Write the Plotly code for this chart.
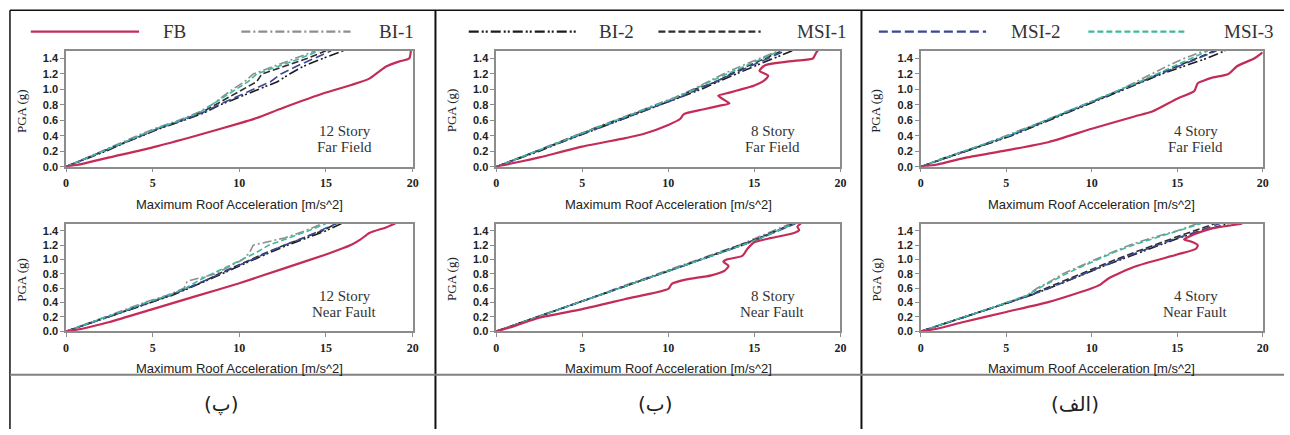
import plotly.graph_objects as go

W, H = 1290, 435

# ---------------- data ----------------
series_names = ["FB", "BI-1", "BI-2", "MSI-1", "MSI-2", "MSI-3"]
panel_titles = [("12 Story", "Far Field"), ("8 Story", "Far Field"), ("4 Story", "Far Field"),
                ("12 Story", "Near Fault"), ("8 Story", "Near Fault"), ("4 Story", "Near Fault")]
column_labels = ["(پ)", "(ب)", "(الف)"]
x_title = "Maximum Roof Acceleration [m/s^2]"
y_title = "PGA (g)"
x_ticks = [0, 5, 10, 15, 20]
y_ticks = [0.0, 0.2, 0.4, 0.6, 0.8, 1.0, 1.2, 1.4]

# PGA levels (g) shared by the base-isolated / MSI curves
pga = [0.0, 0.1, 0.2, 0.3, 0.4, 0.5, 0.6, 0.7, 0.8, 0.9, 1.0, 1.1, 1.2, 1.3, 1.4, 1.5]

# 12 Story Far Field (roof acceleration at each PGA level)
ff12_bi1 = [0, 1.0, 2.1, 3.1, 4.1, 5.2, 6.5, 7.6, 8.4, 9.0, 9.6, 10.3, 10.8, 12.0, 13.2, 14.4]
ff12_bi2 = [0, 1.2, 2.3, 3.3, 4.4, 5.5, 6.8, 8.0, 8.9, 10.0, 11.2, 12.2, 12.9, 13.7, 14.8, 16.0]
ff12_msi1 = [0, 1.1, 2.2, 3.2, 4.3, 5.4, 6.7, 7.8, 8.6, 9.4, 10.2, 11.0, 11.3, 12.6, 13.9, 15.0]
ff12_msi2 = [0, 1.1, 2.2, 3.3, 4.3, 5.4, 6.7, 7.9, 8.8, 9.8, 10.8, 11.8, 12.4, 13.3, 14.3, 15.3]
ff12_msi3 = [0, 1.1, 2.2, 3.2, 4.2, 5.3, 6.6, 7.7, 8.4, 9.1, 9.8, 10.5, 11.0, 12.3, 13.5, 14.6]
ff12_fb_x = [0, 1, 2.5, 5, 7.5, 10, 11, 12.5, 15, 16.5, 17.5, 18, 18.5, 19.2, 19.8, 19.9]
ff12_fb_y = [0, 0.04, 0.12, 0.25, 0.40, 0.56, 0.63, 0.76, 0.96, 1.06, 1.14, 1.22, 1.30, 1.36, 1.40, 1.50]

# 8 Story Far Field
ff8_bi1 = [0, 1.2, 2.3, 3.4, 4.5, 5.7, 6.9, 8.1, 9.3, 10.4, 11.4, 12.3, 13.2, 14.2, 15.3, 16.4]
ff8_bi2 = [0, 1.3, 2.5, 3.6, 4.8, 6.0, 7.2, 8.4, 9.6, 10.8, 11.9, 12.9, 13.9, 15.0, 16.1, 17.2]
ff8_msi1 = [0, 1.2, 2.4, 3.5, 4.6, 5.8, 7.0, 8.2, 9.5, 10.6, 11.5, 12.8, 13.6, 14.6, 15.6, 16.6]
ff8_msi2 = [0, 1.2, 2.4, 3.5, 4.7, 5.9, 7.1, 8.3, 9.5, 10.7, 11.7, 12.7, 13.7, 14.7, 15.7, 16.8]
ff8_msi3 = [0, 1.2, 2.4, 3.5, 4.6, 5.8, 7.0, 8.2, 9.4, 10.5, 11.5, 12.4, 13.4, 14.4, 15.4, 16.5]
ff8_fb_x = [0, 1.5, 2.5, 5, 7.5, 8.5, 10, 10.7, 10.9, 12, 13, 13.55, 13.2, 12.9, 13.4, 15, 15.6, 15.8, 15.3, 15.6, 17.3, 18.4, 18.6, 18.7]
ff8_fb_y = [0, 0.07, 0.12, 0.26, 0.37, 0.42, 0.54, 0.62, 0.68, 0.74, 0.79, 0.82, 0.87, 0.92, 0.95, 1.05, 1.12, 1.18, 1.24, 1.31, 1.37, 1.40, 1.48, 1.50]

# 4 Story Far Field
ff4_bi1 = [0, 1.2, 2.5, 3.8, 5.0, 6.2, 7.3, 8.4, 9.5, 10.6, 11.7, 12.6, 13.5, 14.4, 15.4, 16.6]
ff4_bi2 = [0, 1.3, 2.6, 4.0, 5.3, 6.4, 7.5, 8.6, 9.8, 10.9, 12.0, 13.0, 14.1, 15.4, 16.7, 17.8]
ff4_msi1 = [0, 1.2, 2.6, 3.9, 5.2, 6.3, 7.4, 8.5, 9.7, 10.8, 11.9, 12.9, 13.9, 15.0, 16.1, 17.2]
ff4_msi2 = [0, 1.3, 2.6, 3.9, 5.2, 6.3, 7.4, 8.6, 9.7, 10.8, 11.9, 12.9, 14.0, 15.1, 16.2, 17.3]
ff4_msi3 = [0, 1.2, 2.5, 3.8, 5.1, 6.2, 7.3, 8.4, 9.6, 10.7, 11.8, 12.8, 13.8, 14.8, 15.8, 16.8]
ff4_fb_x = [0, 1, 2.5, 5, 7.5, 10, 12.5, 13.5, 15, 16, 16.2, 16.5, 17, 18, 18.5, 19.5, 20]
ff4_fb_y = [0, 0.03, 0.11, 0.21, 0.32, 0.49, 0.65, 0.71, 0.88, 0.98, 1.08, 1.11, 1.15, 1.20, 1.30, 1.40, 1.48]

# 12 Story Near Fault
nf12_bi1 = [0, 1.1, 2.3, 3.4, 4.5, 5.8, 6.8, 7.0, 8.6, 9.4, 10.2, 10.6, 10.8, 12.6, 13.8, 14.8]
nf12_bi2 = [0, 1.2, 2.4, 3.6, 4.8, 6.1, 7.1, 8.1, 9.0, 9.9, 10.8, 11.8, 12.8, 13.9, 15.0, 15.9]
nf12_msi1 = [0, 1.2, 2.4, 3.5, 4.7, 6.0, 7.0, 8.0, 8.8, 9.7, 10.6, 11.6, 12.6, 13.7, 14.8, 15.6]
nf12_msi2 = [0, 1.2, 2.4, 3.6, 4.8, 6.0, 7.0, 8.0, 8.9, 9.8, 10.7, 11.6, 12.6, 13.7, 14.7, 15.6]
nf12_msi3 = [0, 1.1, 2.3, 3.5, 4.6, 5.9, 6.9, 7.6, 8.4, 9.3, 10.2, 11.0, 11.7, 12.9, 14.0, 15.0]
nf12_fb_x = [0, 1, 2.5, 5, 7.5, 10, 12.5, 15, 16, 16.5, 17, 17.5, 18.5, 19]
nf12_fb_y = [0, 0.04, 0.13, 0.31, 0.49, 0.67, 0.87, 1.07, 1.16, 1.21, 1.28, 1.37, 1.45, 1.50]

# 8 Story Near Fault
nf8_bi1 = [0, 1.2, 2.3, 3.5, 4.7, 5.9, 7.0, 8.2, 9.4, 10.6, 11.7, 12.9, 14.1, 15.1, 16.1, 17.1]
nf8_bi2 = [0, 1.2, 2.4, 3.6, 4.8, 6.0, 7.2, 8.4, 9.6, 10.8, 11.9, 13.1, 14.3, 15.3, 16.3, 17.3]
nf8_msi1 = [0, 1.2, 2.4, 3.6, 4.8, 6.0, 7.1, 8.3, 9.5, 10.7, 11.9, 13.0, 14.2, 15.3, 16.3, 17.3]
nf8_msi2 = [0, 1.2, 2.4, 3.6, 4.8, 6.0, 7.2, 8.4, 9.6, 10.8, 12.0, 13.1, 14.3, 15.4, 16.4, 17.4]
nf8_msi3 = [0, 1.2, 2.4, 3.6, 4.8, 6.0, 7.2, 8.4, 9.5, 10.7, 11.9, 13.1, 14.3, 15.4, 16.4, 17.3]
nf8_fb_x = [0, 1, 2.5, 5, 7.5, 10, 10.2, 11, 12.5, 13.3, 13.5, 13.2, 13.4, 14.3, 14.6, 15, 16, 17.3, 17.6, 17.5, 17.7]
nf8_fb_y = [0, 0.07, 0.19, 0.31, 0.45, 0.59, 0.66, 0.72, 0.78, 0.85, 0.91, 0.97, 1.00, 1.05, 1.15, 1.24, 1.30, 1.37, 1.41, 1.46, 1.50]

# 4 Story Near Fault
nf4_bi1 = [0, 1.2, 2.5, 3.8, 5.0, 6.2, 6.8, 7.6, 8.3, 9.2, 10.2, 11.2, 12.2, 13.5, 15.0, 16.2]
nf4_bi2 = [0, 1.3, 2.6, 3.9, 5.2, 6.4, 7.5, 8.6, 9.6, 10.6, 11.7, 12.8, 13.9, 15.1, 16.5, 18.0]
nf4_msi1 = [0, 1.3, 2.6, 3.9, 5.1, 6.3, 7.3, 8.3, 9.3, 10.4, 11.4, 12.5, 13.6, 14.8, 16.0, 17.2]
nf4_msi2 = [0, 1.3, 2.6, 3.9, 5.2, 6.4, 7.5, 8.5, 9.5, 10.6, 11.6, 12.7, 13.8, 15.0, 16.3, 17.5]
nf4_msi3 = [0, 1.2, 2.5, 3.8, 5.0, 6.2, 6.9, 7.7, 8.5, 9.4, 10.3, 11.3, 12.4, 13.7, 15.1, 16.4]
nf4_fb_x = [0, 1, 2.5, 5, 7.5, 9, 10, 10.5, 11, 12.5, 15, 16.1, 16.2, 15.8, 15.4, 16, 17, 18, 18.8]
nf4_fb_y = [0, 0.04, 0.13, 0.27, 0.41, 0.52, 0.60, 0.65, 0.74, 0.90, 1.07, 1.15, 1.20, 1.25, 1.28, 1.35, 1.43, 1.47, 1.50]

panels = [
    (ff12_fb_x, ff12_fb_y, ff12_bi1, ff12_bi2, ff12_msi1, ff12_msi2, ff12_msi3),
    (ff8_fb_x, ff8_fb_y, ff8_bi1, ff8_bi2, ff8_msi1, ff8_msi2, ff8_msi3),
    (ff4_fb_x, ff4_fb_y, ff4_bi1, ff4_bi2, ff4_msi1, ff4_msi2, ff4_msi3),
    (nf12_fb_x, nf12_fb_y, nf12_bi1, nf12_bi2, nf12_msi1, nf12_msi2, nf12_msi3),
    (nf8_fb_x, nf8_fb_y, nf8_bi1, nf8_bi2, nf8_msi1, nf8_msi2, nf8_msi3),
    (nf4_fb_x, nf4_fb_y, nf4_bi1, nf4_bi2, nf4_msi1, nf4_msi2, nf4_msi3),
]

# ---------------- styles ----------------
styles = {
    "FB": dict(color="#c42c58", width=2.2, dash="solid"),
    "BI-1": dict(color="#8e8e8e", width=1.6, dash="9px,3px,2px,3px"),
    "BI-2": dict(color="#1c1c1c", width=1.6, dash="10px,3px,2px,2px,2px,3px"),
    "MSI-1": dict(color="#2e2e2e", width=1.6, dash="7px,3px"),
    "MSI-2": dict(color="#3a4895", width=1.6, dash="9px,4px"),
    "MSI-3": dict(color="#3fb89d", width=1.6, dash="6px,3px"),
}

col_x = [(63.5, 412.5), (496.7, 843.3), (924.3, 1268.5)]
row_y = [(51.5, 169.0), (226.7, 336.0)]  # (top px, bottom px)


def px(x):
    return x / W


def py(y):
    return 1 - y / H


fig = go.Figure()
layout = dict(width=W, height=H, margin=dict(l=0, r=0, t=0, b=0),
              paper_bgcolor="white", plot_bgcolor="white", showlegend=False,
              annotations=[], shapes=[])

axis_common = dict(showgrid=False, zeroline=False, showline=True, mirror=True,
                   linecolor="#8c8c8c", linewidth=1.5, ticks="outside", ticklen=4,
                   tickcolor="#8c8c8c", tickwidth=1)

for i, data in enumerate(panels):
    r, c = divmod(i, 3)
    n = i + 1
    xa = "x" if n == 1 else f"x{n}"
    ya = "y" if n == 1 else f"y{n}"
    fb_x, fb_y, bi1, bi2, msi1, msi2, msi3 = data
    for name, xs in zip(["BI-1", "BI-2", "MSI-1", "MSI-2", "MSI-3"], [bi1, bi2, msi1, msi2, msi3]):
        fig.add_trace(go.Scatter(x=xs, y=pga, mode="lines", name=name, line=styles[name],
                                 xaxis=xa, yaxis=ya, showlegend=False))
    fig.add_trace(go.Scatter(x=fb_x, y=fb_y, mode="lines", name="FB",
                             line=dict(**styles["FB"], shape="spline", smoothing=0.6),
                             xaxis=xa, yaxis=ya, showlegend=False))
    x0, x1 = col_x[c]
    t, b = row_y[r]
    layout["xaxis" if n == 1 else f"xaxis{n}"] = dict(
        axis_common, domain=[px(x0), px(x1)], range=[0, 20], tickvals=x_ticks,
        anchor=ya, tickfont=dict(family="Liberation Serif", size=12, color="#222", weight="bold"))
    layout["yaxis" if n == 1 else f"yaxis{n}"] = dict(
        axis_common, domain=[py(b), py(t)], range=[0, 1.5], tickvals=y_ticks,
        tickformat=".1f", anchor=xa,
        tickfont=dict(family="Liberation Sans", size=11, color="#222", weight="bold"))
    cx = (x0 + x1) / 2
    layout["annotations"].append(dict(
        x=px(cx), y=py(b + 38), xref="paper", yref="paper", text=x_title, showarrow=False,
        font=dict(family="Liberation Sans", size=13, color="#222"), xanchor="center", yanchor="middle"))
    layout["annotations"].append(dict(
        x=px(x0 - 45), y=py((t + b) / 2 + 2), xref="paper", yref="paper", text=y_title, showarrow=False,
        textangle=-90, font=dict(family="Liberation Serif", size=13, color="#222"),
        xanchor="center", yanchor="middle"))
    lx = x0 + 0.804 * (x1 - x0)
    for k, line_txt in enumerate(panel_titles[i]):
        layout["annotations"].append(dict(
            x=px(lx), y=py(b - 36 + 16 * k), xref="paper", yref="paper", text=line_txt,
            showarrow=False, font=dict(family="Liberation Serif", size=15, color="#333"),
            xanchor="center", yanchor="middle"))

# column labels (bottom row of the table)
for c, lab in enumerate(column_labels):
    cx = [220, 657, 1080][c]
    layout["annotations"].append(dict(
        x=px(cx), y=py(410), xref="paper", yref="paper", text=lab, showarrow=False,
        font=dict(family="DejaVu Sans", size=20, color="#222"), xanchor="center", yanchor="middle"))

# legend (top row)
legend_pos = [(28, 137, 173), (240, 350, 396), (469, 577, 618), (660, 763, 825), (882, 990, 1040), (1093, 1190, 1255)]
for name, (a, bb, tx) in zip(series_names, legend_pos):
    st = styles[name]
    layout["shapes"].append(dict(type="line", xref="paper", yref="paper", x0=px(a), x1=px(bb),
                                 y0=py(32), y1=py(32),
                                 line=dict(color=st["color"], width=2.2, dash=st["dash"])))
    layout["annotations"].append(dict(
        x=px(tx), y=py(32), xref="paper", yref="paper", text=name, showarrow=False,
        font=dict(family="Liberation Serif", size=19, color="#333"), xanchor="center", yanchor="middle"))

# table lines
table_lines = [
    (7, 10.5, 1290, 10.5, "#111", 1.5),
    (7, 10.5, 7, 435, "#111", 1.5),
    (435.5, 10.5, 435.5, 435, "#111", 2),
    (864.5, 10.5, 864.5, 435, "#111", 2),
    (7, 380, 1290, 380, "#808080", 2),
]
for xa0, ya0, xa1, ya1, colr, wd in table_lines:
    layout["shapes"].append(dict(type="line", xref="paper", yref="paper", x0=px(xa0), x1=px(xa1),
                                 y0=py(ya0), y1=py(ya1), line=dict(color=colr, width=wd)))

fig.update_layout(**layout)
fig.write_html("out.html")
